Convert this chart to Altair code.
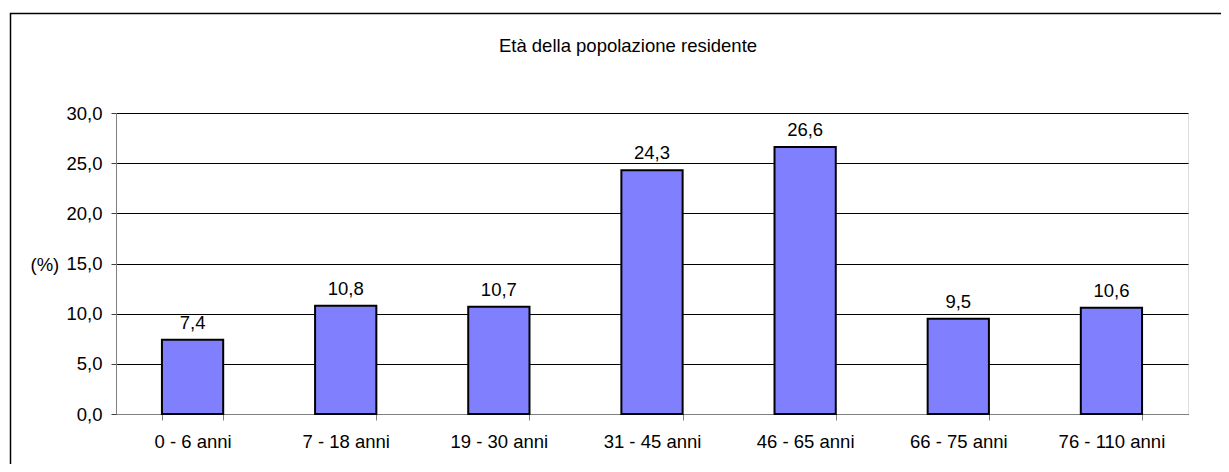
import altair as alt
import pandas as pd

categories = ["0 - 6 anni", "7 - 18 anni", "19 - 30 anni", "31 - 45 anni",
              "46 - 65 anni", "66 - 75 anni", "76 - 110 anni"]
values = [7.4, 10.8, 10.7, 24.3, 26.6, 9.5, 10.6]
y_ticks = [0, 5, 10, 15, 20, 25, 30]
title_text = "Età della popolazione residente"

df = pd.DataFrame({"cat": categories, "val": values})

FONT = "Liberation Sans"
FS = 18.5
W, H = 1072, 301

x = alt.X("cat:N", sort=categories, title=None,
          scale=alt.Scale(paddingInner=0.6, paddingOuter=0.3),
          axis=alt.Axis(labelAngle=0, labelFont=FONT, labelFontSize=FS,
                        labelColor="black", labelPadding=12, tickBand="extent",
                        tickSize=6, tickColor="#808080", domainColor="#808080",
                        grid=False))
y = alt.Y("val:Q", scale=alt.Scale(domain=[0, 30], nice=False),
          axis=alt.Axis(values=y_ticks, title="(%)", titleAngle=0,
                        titleX=-86, titleY=151, titleAlign="left",
                        titleBaseline="middle", titleFont=FONT,
                        titleFontSize=FS, titleFontWeight="normal",
                        titleColor="black",
                        labelExpr="replace(format(datum.value, '.1f'), '.', ',')",
                        labelFont=FONT, labelFontSize=FS, labelColor="black",
                        labelPadding=9, tickSize=5, tickColor="#404040",
                        domainColor="#808080", gridColor="black",
                        gridWidth=1, gridOpacity=1))

base = alt.Chart(df)

bars = base.mark_bar(color="#8080FF", stroke="black", strokeWidth=2).encode(x=x, y=y)

labels = base.transform_calculate(
    lab="replace(format(datum.val, '.1f'), '.', ',')"
).mark_text(font=FONT, fontSize=FS, color="black", baseline="alphabetic",
            dy=-11).encode(x=alt.X("cat:N", sort=categories), y="val:Q", text="lab:N")

title = alt.Chart(pd.DataFrame({"t": [title_text]})).mark_text(
    font=FONT, fontSize=FS, color="black", align="center", baseline="alphabetic"
).encode(x=alt.value(512), y=alt.value(-61), text="t:N")

border = alt.Chart(pd.DataFrame({"a": [0]})).mark_rect(
    fill=None, stroke="black", strokeWidth=1.5
).encode(x=alt.value(-105.5), x2=alt.value(1200), y=alt.value(-99.5), y2=alt.value(420))

chart = alt.layer(border, bars, labels, title).properties(
    width=W, height=H,
    autosize=alt.AutoSizeParams(type="none"),
    padding={"left": 108, "top": 105, "right": 33, "bottom": 50},
).configure_view(stroke=None).configure(background="white")

chart.save("out.html", embed_options={"renderer": "svg", "actions": False})
